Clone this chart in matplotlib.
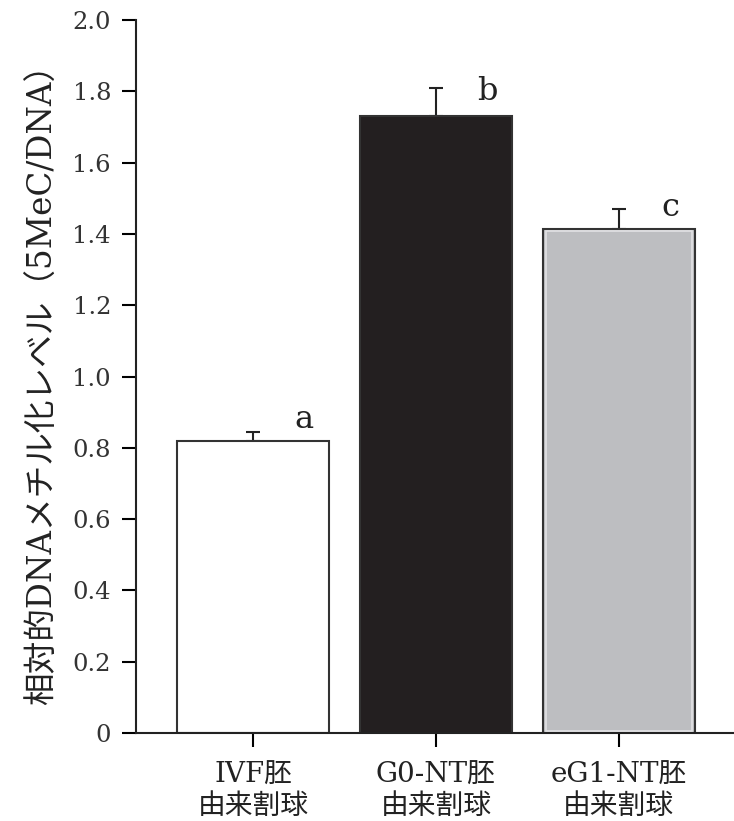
import matplotlib
matplotlib.use("Agg")
import matplotlib.pyplot as plt
import numpy as np

plt.rcParams['font.family'] = ['DejaVu Serif', 'Noto Sans CJK JP', 'DejaVu Sans']

# データ
groups = ["IVF胚\n由来割球", "G0-NT胚\n由来割球", "eG1-NT胚\n由来割球"]
values = [0.818, 1.732, 1.415]
errors = [0.025, 0.078, 0.055]
letters = ["a", "b", "c"]
letter_y = [0.88, 1.80, 1.475]
colors = ["#ffffff", "#231f20", "#bdbec1"]

fig = plt.figure(figsize=(7.34, 8.21), dpi=100)
ax = fig.add_axes([0.1853, 0.1072, 0.8147, 0.8684])

x = np.arange(len(groups))
ax.bar(x, values, width=0.83, color=colors, edgecolor="#333333", linewidth=1.5, zorder=2)
# 灰色の棒の内側の明るい縁
ax.bar(x[2], values[2] - 0.012, width=0.80, bottom=0.006, fill=False,
       edgecolor="#e2e2e4", linewidth=1.2, zorder=3)
ax.errorbar(x, values, yerr=[np.zeros(3), errors], fmt="none", ecolor="#222222",
            elinewidth=1.5, capsize=5, capthick=1.5, zorder=1)

for xi, lt, ly in zip(x, letters, letter_y):
    ax.text(xi + 0.28, ly, lt, ha="center", va="center", fontsize=23, color="#222222")

ax.set_xlim(-0.64, 2.63)
ax.set_ylim(0, 2.0)
ax.set_yticks(np.arange(0, 2.01, 0.2))
ax.set_yticklabels(["0"] + [f"{v:.1f}" for v in np.arange(0.2, 2.01, 0.2)])
ax.set_xticks(x)
ax.set_xticklabels(groups, fontsize=20, linespacing=1.2, color="#222222")

for s in ["top", "right"]:
    ax.spines[s].set_visible(False)
for s in ["left", "bottom"]:
    ax.spines[s].set_linewidth(1.5)
    ax.spines[s].set_color("#222222")

ax.tick_params(axis="y", direction="out", length=10, width=1.5, labelsize=17.5,
               labelcolor="#333333", pad=8)
ax.tick_params(axis="x", direction="out", length=10, width=1.5, pad=11)

ax.set_ylabel("相対的DNAメチル化レベル（5MeC/DNA）", fontsize=23.5, color="#222222", labelpad=10)

fig.savefig("out.png", dpi=100)
